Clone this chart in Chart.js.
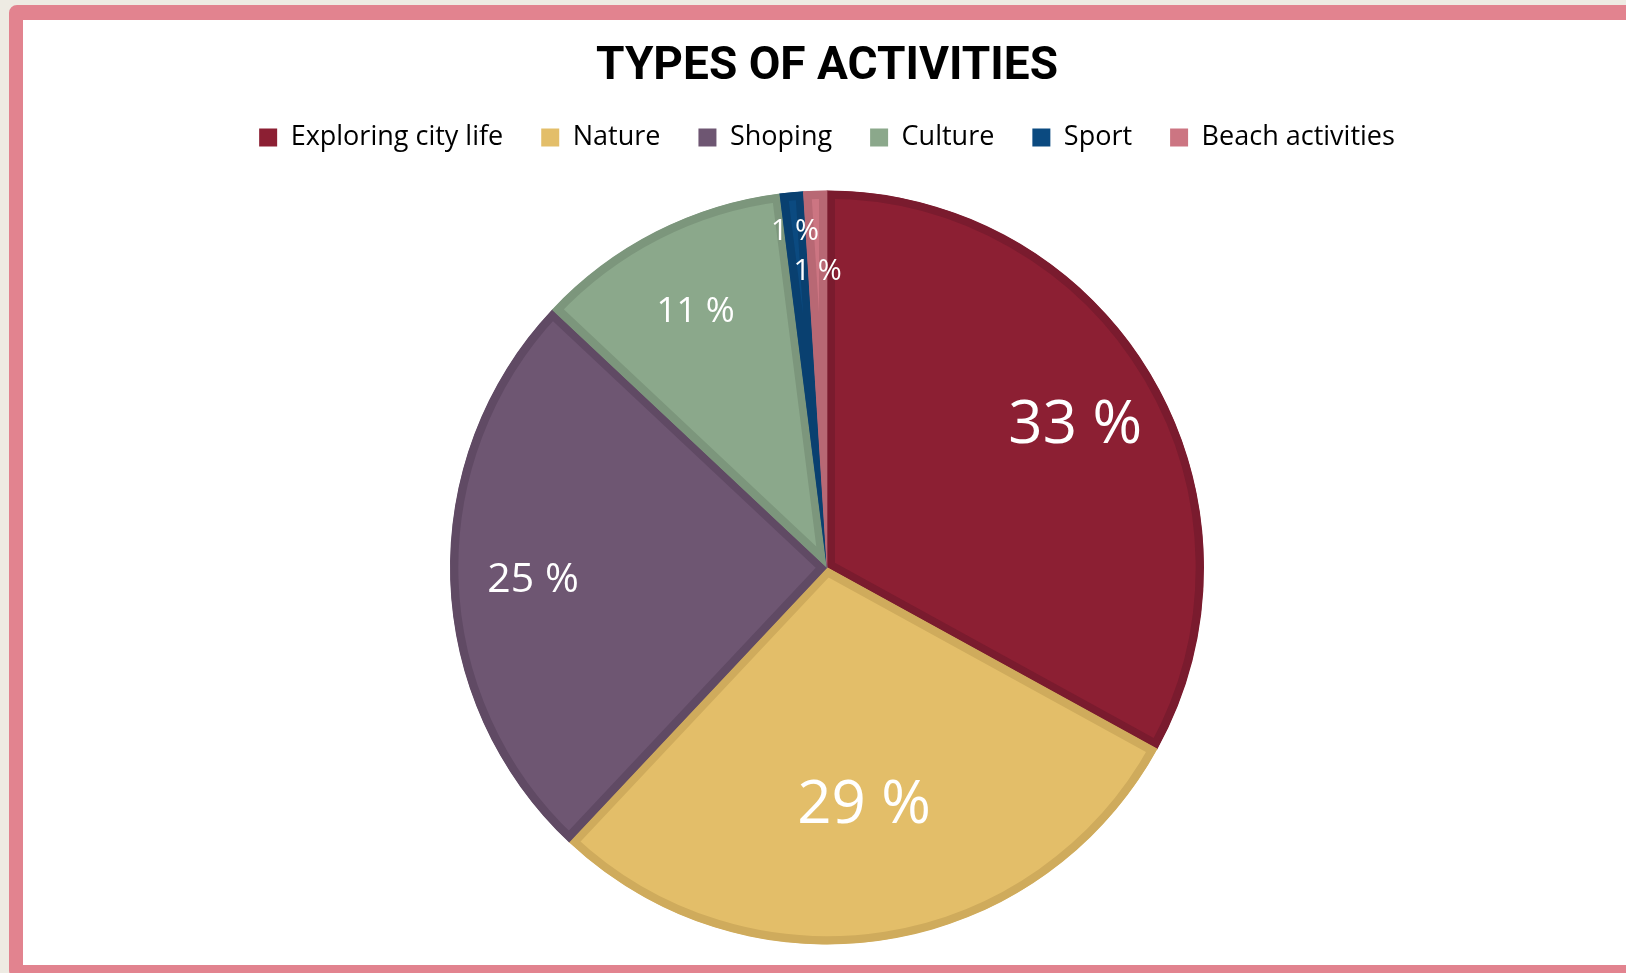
<!DOCTYPE html>
<html>
<head>
<meta charset="utf-8">
<script src="https://cdn.jsdelivr.net/npm/chart.js@4.4.1/dist/chart.umd.min.js"></script>
<style>
  html, body { margin: 0; padding: 0; width: 1626px; height: 973px; overflow: hidden; background: #EEEBE3; }
  #frame {
    position: absolute; left: 9px; top: 5px;
    width: 1700px; height: 945px;
    border: 14px solid #E2838F; border-top-width: 15px;
    border-radius: 8px; background: #fff;
  }
  #wrap { position: absolute; left: 23px; top: 20px; width: 1608px; height: 990px; }
</style>
</head>
<body>
<div id="frame"></div>
<div id="wrap"><canvas id="pieChart"></canvas></div>
<script>
// data
const categories = ['Exploring city life', 'Nature', 'Shoping', 'Culture', 'Sport', 'Beach activities'];
const shares = [33, 29, 25, 11, 1, 1];

// look
const fillColors = ['#8C1F33', '#E3BE69', '#6E5672', '#8BA88B', '#0B4A80', '#CC7582'];
const edgeColors = ['#7A1B2E', '#CFAB5C', '#604A64', '#7C967C', '#094070', '#B86874'];
const labelRadius = [0.765, 0.628, 0.78, 0.768, 0.902, 0.79];
const labelSize = [60, 60, 41, 35, 29, 29];

// percentage labels inside the slices
const sliceLabels = {
  id: 'sliceLabels',
  afterDatasetsDraw(chart) {
    const ctx = chart.ctx;
    const meta = chart.getDatasetMeta(0);
    ctx.save();
    ctx.fillStyle = '#fff';
    ctx.textAlign = 'center';
    ctx.textBaseline = 'middle';
    meta.data.forEach((arc, i) => {
      const p = arc.getProps(['x', 'y', 'startAngle', 'endAngle', 'outerRadius'], true);
      const mid = (p.startAngle + p.endAngle) / 2;
      const r = p.outerRadius * labelRadius[i];
      ctx.font = labelSize[i] + 'px "Open Sans", sans-serif';
      // small downward nudge so the digits sit centred like the original
      const nudge = labelSize[i] * 0.08;
      ctx.fillText(shares[i] + ' %', p.x + Math.cos(mid) * r, p.y + Math.sin(mid) * r + nudge);
    });
    ctx.restore();
  }
};

document.addEventListener('DOMContentLoaded', function() {
  const ctx = document.getElementById('pieChart').getContext('2d');
  new Chart(ctx, {
    type: 'pie',
    data: {
      labels: categories,
      datasets: [{
        data: shares,
        backgroundColor: fillColors,
        borderColor: edgeColors,
        borderWidth: 8,
        borderAlign: 'inner',
        radius: 377
      }]
    },
    options: {
      responsive: true,
      maintainAspectRatio: false,
      animation: false,
      layout: { padding: { top: 0, bottom: 36 } },
      plugins: {
        title: {
          display: true,
          text: 'TYPES OF ACTIVITIES',
          color: '#000',
          font: { family: 'Roboto, "Liberation Sans", sans-serif', size: 46, weight: 'bold', lineHeight: 1 },
          padding: { top: 24, bottom: -4 }
        },
        legend: {
          position: 'top',
          labels: {
            color: '#000',
            font: { family: '"Open Sans", sans-serif', size: 27 },
            boxWidth: 18,
            boxHeight: 18,
            padding: 38,
            generateLabels(chart) {
              const items = Chart.overrides.pie.plugins.legend.labels.generateLabels(chart);
              items.forEach(item => { item.lineWidth = 0; item.strokeStyle = item.fillStyle; });
              return items;
            }
          }
        },
        tooltip: { enabled: false }
      }
    },
    plugins: [sliceLabels]
  });
});
</script>
</body>
</html>
